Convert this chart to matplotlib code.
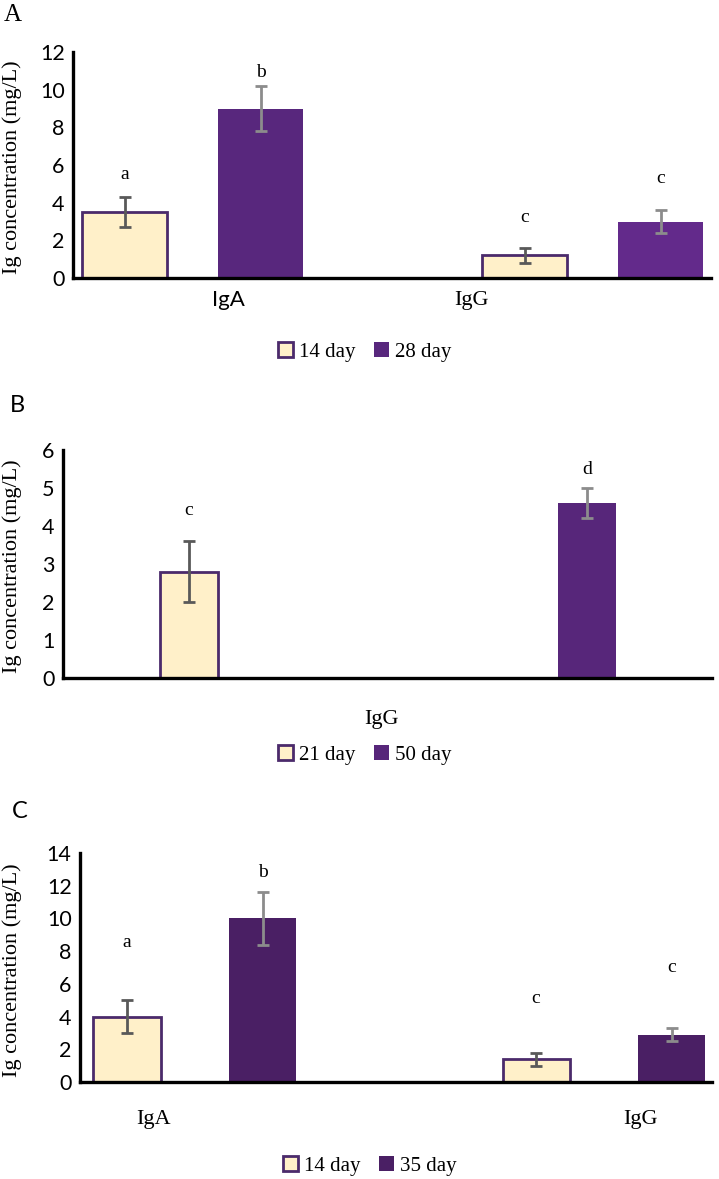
import matplotlib
matplotlib.use("Agg")
import matplotlib.pyplot as plt
from matplotlib.patches import Patch

W, H = 719, 1179

# panel A
a_groups = ["IgA", "IgG"]
a_days = ["14 day", "28 day"]
a_vals = [[3.5, 1.2], [9.0, 3.0]]
a_err = [[0.8, 0.4], [1.2, 0.6]]
a_marks = [["a", "c"], ["b", "c"]]
a_mark_y = [[5.5, 3.2], [10.9, 5.3]]

# panel B
b_groups = ["IgG"]
b_days = ["21 day", "50 day"]
b_vals = [[2.8], [4.6]]
b_err = [[0.8], [0.4]]
b_marks = [["c"], ["d"]]
b_mark_y = [[4.4], [5.5]]

# panel C
c_groups = ["IgA", "IgG"]
c_days = ["14 day", "35 day"]
c_vals = [[4.0, 1.4], [10.0, 2.9]]
c_err = [[1.0, 0.4], [1.6, 0.4]]
c_marks = [["a", "c"], ["b", "c"]]
c_mark_y = [[8.5, 5.1], [12.8, 7.0]]

CREAM = "#FFF0C9"
EDGE = "#4B2A6B"
SERIF = "Liberation Serif"
SANS = "Lato"

fig = plt.figure(figsize=(W / 100, H / 100), dpi=100)


def px_axes(left, right, top, bottom):
    return fig.add_axes([left / W, 1 - bottom / H, (right - left) / W, (bottom - top) / H])


def panel(ax, groups, vals, errs, marks, mark_y, purples, offsets, width,
          xlim, ymax, ystep, tick_x, tick_font, tick_pad):
    for i in range(2):
        xs = [g + offsets[i] for g in range(len(groups))]
        if i == 0:
            ax.bar(xs, vals[i], width, color=CREAM, edgecolor=EDGE, linewidth=2, zorder=2)
            ecol = "#595959"
        else:
            ax.bar(xs, vals[i], width, color=purples, linewidth=0, zorder=2)
            ecol = "#8C8C8C"
        ax.errorbar(xs, vals[i], yerr=errs[i], fmt="none", ecolor=ecol,
                    elinewidth=2, capsize=4, capthick=2, zorder=3)
        for x, m, y in zip(xs, marks[i], mark_y[i]):
            ax.text(x, y, m, ha="center", va="center", fontsize=14, family=SERIF)
    ax.set_xlim(*xlim)
    ax.set_ylim(0, ymax)
    ax.set_yticks(range(0, ymax + 1, ystep))
    ax.set_xticks(tick_x)
    ax.set_xticklabels(groups, fontsize=16, family=tick_font)
    for lab in ax.get_yticklabels():
        lab.set_fontsize(15.5)
        lab.set_family(SANS)
    ax.tick_params(axis="both", length=0)
    ax.tick_params(axis="x", pad=tick_pad)
    ax.tick_params(axis="y", pad=6)
    for s in ["top", "right"]:
        ax.spines[s].set_visible(False)
    for s in ["left", "bottom"]:
        ax.spines[s].set_linewidth(2.4)
        ax.spines[s].set_color("black")
        ax.spines[s].set_zorder(4)


def legend(days, purple, xc, yc):
    handles = [Patch(facecolor=CREAM, edgecolor=EDGE, linewidth=2),
               Patch(facecolor=purple, edgecolor="none")]
    fig.legend(handles, days, loc="center", bbox_to_anchor=(xc / W, 1 - yc / H),
               ncol=2, frameon=False, prop={"family": SERIF, "size": 15},
               handlelength=0.7, handleheight=0.7, handletextpad=0.3, columnspacing=0.9)


def ylabel(yc):
    fig.text(12 / W, 1 - yc / H, "Ig concentration (mg/L)", rotation=90,
             ha="center", va="center", fontsize=16, family=SERIF)


# A
axA = px_axes(73, 711, 52, 278)
panel(axA, a_groups, a_vals, a_err, a_marks, a_mark_y, ["#58277D", "#632A8B"],
      [-0.17, 0.17], 0.2125, (-0.299, 1.296), 12, 2, [0.089, 0.696], SANS, 9)
axA.get_xticklabels()[1].set_family(SERIF)
legend(a_days, "#58277D", 365, 352)
ylabel(167)
fig.text(4 / W, 1 - 15 / H, "A", fontsize=18, family=SERIF, va="center")

# B
axB = px_axes(63, 712, 450, 678)
panel(axB, b_groups, b_vals, b_err, b_marks, b_mark_y, ["#57267A"],
      [-0.4975, 0.4975], 0.145, (-0.8125, 0.81), 6, 1, [-0.0175], SERIF, 23)
legend(b_days, "#57267A", 365, 755)
ylabel(566)
fig.text(10 / W, 1 - 405 / H, "B", fontsize=17, family=SANS, va="center")

# C
axC = px_axes(80, 712, 853, 1082)
panel(axC, c_groups, c_vals, c_err, c_marks, c_mark_y, ["#4A1F64"],
      [-0.166, 0.166], 0.164, (-0.281, 1.264), 14, 2, [-0.1, 1.09], SERIF, 20)
legend(c_days, "#4A1F64", 370, 1166)
ylabel(970)
fig.text(12 / W, 1 - 812 / H, "C", fontsize=17, family=SANS, va="center")

fig.savefig("out.png", dpi=100)
